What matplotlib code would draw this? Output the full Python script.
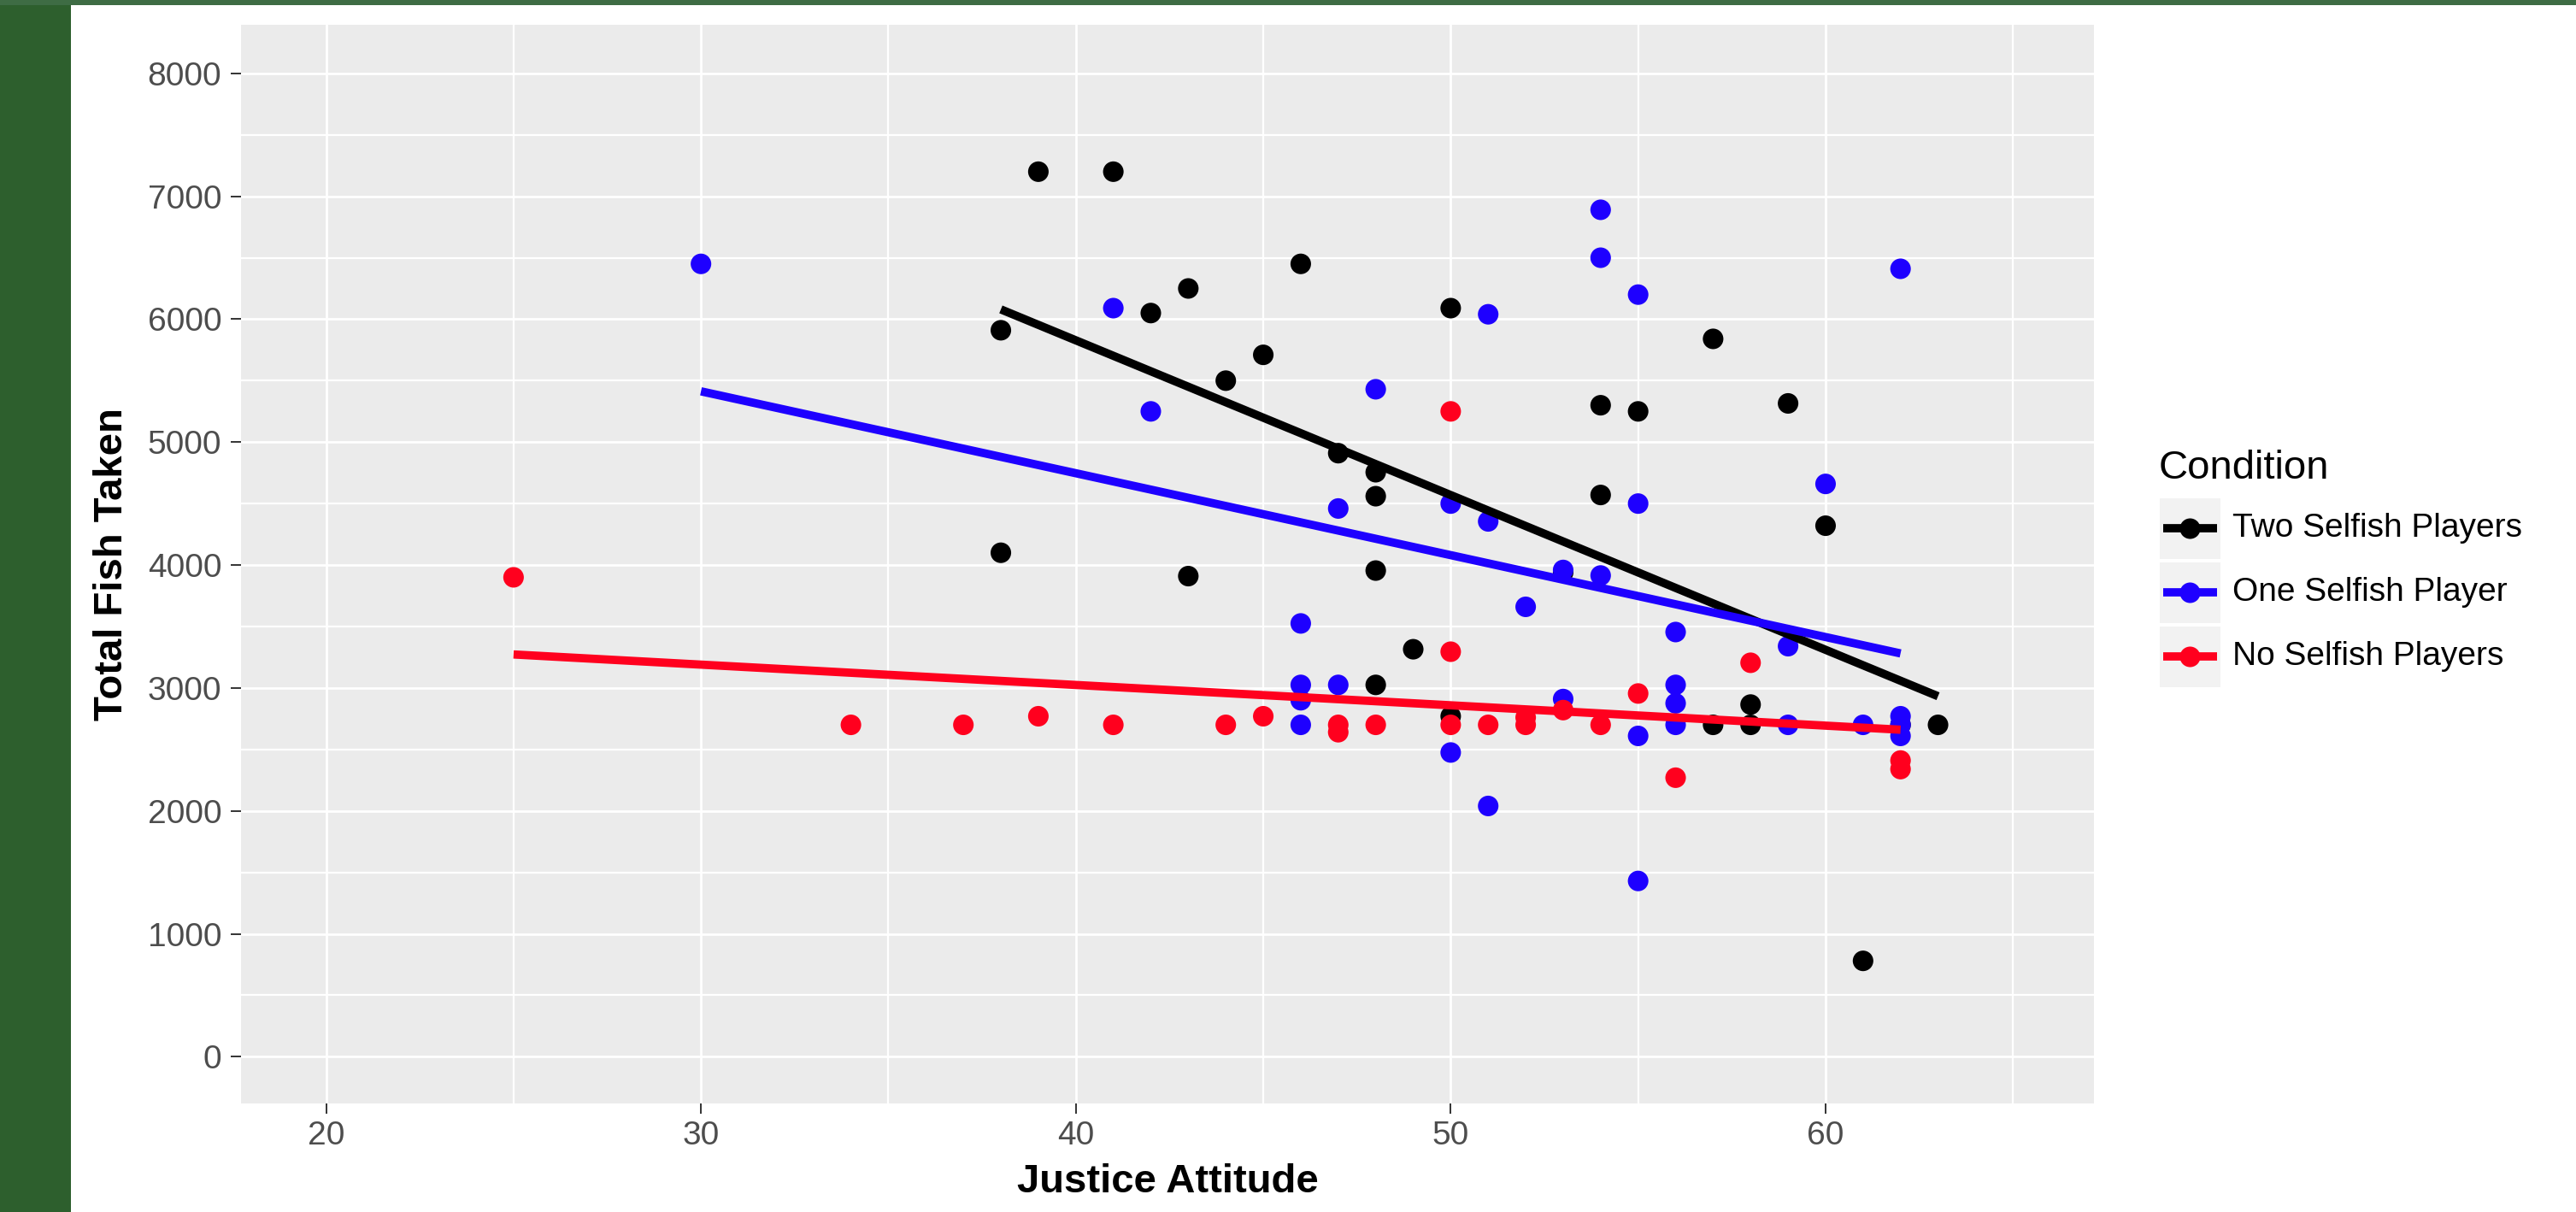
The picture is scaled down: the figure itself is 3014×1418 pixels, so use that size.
import matplotlib
matplotlib.use("Agg")
import matplotlib.pyplot as plt
import numpy as np
from matplotlib.patches import Rectangle
from matplotlib.lines import Line2D

plt.rcParams['font.family'] = ['Liberation Sans', 'DejaVu Sans']

# Justice attitude (x) and total fish taken (y) for each condition
two_x = [38, 38, 39, 41, 42, 43, 43, 44, 45, 46, 47, 48, 48, 48, 48,
         49, 50, 50, 53, 54, 54, 55, 57, 57, 58, 58, 59, 60, 61, 62, 63]
two_y = [5910, 4100, 7200, 7200, 6050, 6250, 3910, 5500, 5710, 6450, 4910,
         4755, 4560, 3955, 3025, 3315, 6090, 2770, 3940, 5300, 4570, 5250,
         5840, 2700, 2865, 2700, 5315, 4320, 780, 2700, 2700]

one_x = [30, 41, 42, 46, 46, 46, 46, 47, 47, 48, 50, 50, 51, 51, 51, 52,
         53, 53, 54, 54, 54, 55, 55, 55, 55, 56, 56, 56, 56, 59, 59, 60,
         61, 62, 62, 62, 62]
one_y = [6450, 6090, 5250, 3525, 3025, 2900, 2700, 4460, 3025, 5430, 4500,
         2475, 6040, 4355, 2040, 3660, 3960, 2910, 6890, 6500, 3915, 6200,
         4500, 2610, 1430, 3455, 3025, 2875, 2700, 3340, 2700, 4660, 2700,
         6410, 2770, 2700, 2610]

no_x = [25, 34, 37, 39, 41, 44, 45, 47, 47, 48, 50, 50, 50, 51, 52, 52,
        53, 54, 55, 56, 58, 62, 62]
no_y = [3900, 2700, 2700, 2770, 2700, 2700, 2770, 2700, 2640, 2700, 5250,
        3295, 2700, 2700, 2760, 2700, 2820, 2700, 2955, 2270, 3205, 2410,
        2340]

conditions = ["Two Selfish Players", "One Selfish Player", "No Selfish Players"]
colors = ["#000000", "#1e00ff", "#ff001e"]

W, H = 3014, 1418
fig = plt.figure(figsize=(W / 100, H / 100), dpi=100)
fig.patch.set_facecolor("white")

# main panel, placed in pixel terms
L, R, T, B = 282, 2450, 29, 1291
ax = fig.add_axes([L / W, 1 - B / H, (R - L) / W, (B - T) / H])
ax.set_facecolor("#ebebeb")
for s in ax.spines.values():
    s.set_visible(False)

groups = [(two_x, two_y), (one_x, one_y), (no_x, no_y)]
# drawing order: blue, black, red
for i in [1, 0, 2]:
    x, y = np.array(groups[i][0]), np.array(groups[i][1])
    ax.scatter(x, y, s=300, c=colors[i], edgecolors="none", zorder=3 + i * 0.1)
for i in [1, 0, 2]:
    x, y = np.array(groups[i][0]), np.array(groups[i][1])
    coef = np.polyfit(x, y, 1)
    xs = np.array([x.min(), x.max()])
    ax.plot(xs, np.polyval(coef, xs), color=colors[i], lw=7,
            solid_capstyle="butt", zorder=4 + i * 0.1)

ax.set_xlim(17.73, 67.16)
ax.set_ylim(-380, 8395)
ax.set_xticks([20, 30, 40, 50, 60])
ax.set_xticks([25, 35, 45, 55, 65], minor=True)
ax.set_yticks(np.arange(0, 8001, 1000))
ax.set_yticks(np.arange(500, 8000, 1000), minor=True)
ax.grid(which="major", color="white", lw=2.0, zorder=0)
ax.grid(which="minor", color="white", lw=1.6, zorder=0)
ax.set_axisbelow(True)
ax.tick_params(which="major", length=8.3, width=1.4, color="#333333",
               labelsize=28, labelcolor="#4d4d4d")
ax.tick_params(axis="x", pad=6)
ax.tick_params(axis="y", pad=8)
ax.tick_params(which="minor", length=0)

ax.set_xlabel("Justice Attitude", fontsize=34, fontweight="bold", labelpad=10)
ax.set_ylabel("Total Fish Taken", fontsize=34, fontweight="bold", labelpad=14)

# overlay in pixel coordinates for the frame strips and the legend
ov = fig.add_axes([0, 0, 1, 1])
ov.set_xlim(0, W)
ov.set_ylim(H, 0)
ov.axis("off")
ov.patch.set_alpha(0)
ov.add_patch(Rectangle((0, 0), 83, H, color="#2d5f2d", lw=0))
ov.add_patch(Rectangle((0, 0), W, 6, color="#3e6c44", lw=0))

ov.text(2526, 560, "Condition", fontsize=34, va="baseline", ha="left")
key_centers = [618, 693, 768]
for i, name in enumerate(conditions):
    cy = key_centers[i]
    ov.add_patch(Rectangle((2527, cy - 35.5), 71, 71, color="#f2f2f2", lw=0))
    ov.add_line(Line2D([2531, 2594], [cy, cy], color=colors[i], lw=7,
                       solid_capstyle="butt"))
    ov.plot([2562], [cy], "o", color=colors[i], markersize=17.3, mec="none")
    ov.text(2612, cy, name, fontsize=28, va="center", ha="left")

fig.savefig("out.png", dpi=100)
